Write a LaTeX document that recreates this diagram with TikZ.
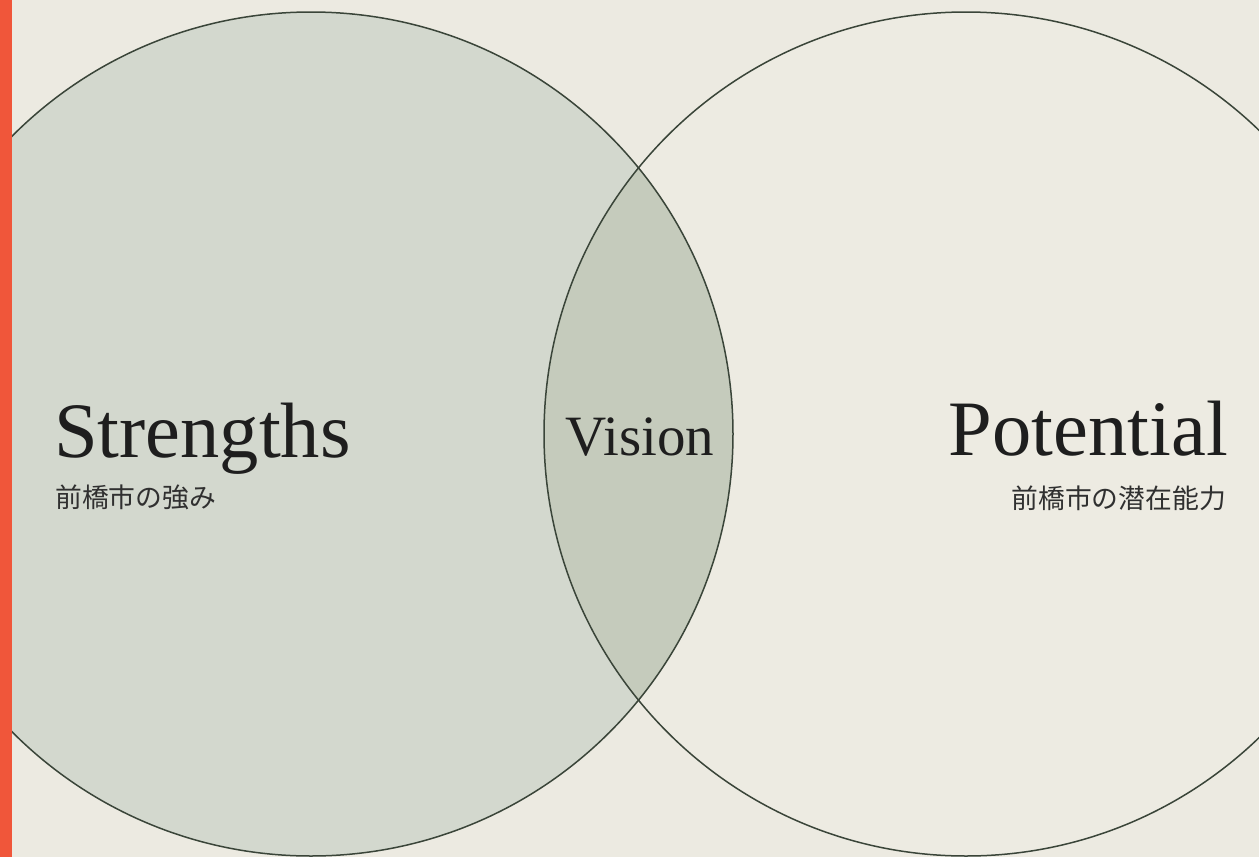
\documentclass[tikz,border=0pt]{standalone}
\usepackage{fontspec}
\setmainfont{Liberation Serif}
\newfontfamily\jpfont{Noto Sans CJK JP}
\definecolor{bgc}{HTML}{ECEAE1}
\definecolor{leftfill}{HTML}{D3D8CE}
\definecolor{midfill}{HTML}{C5CBBC}
\definecolor{rightfill}{HTML}{EDEBE2}
\definecolor{ringc}{HTML}{3A4539}
\definecolor{barc}{HTML}{F0563A}
\definecolor{txtc}{HTML}{1E1E1E}
\begin{document}
\begin{tikzpicture}[x=1pt,y=-1pt,
  ring/.style={circle, draw=ringc, line width=1.5pt, minimum size=844pt, inner sep=0pt},
  bigword/.style={text=txtc, font=\fontsize{78.5}{80}\selectfont, inner sep=0pt},
  midword/.style={text=txtc, font=\fontsize{57}{60}\selectfont, inner sep=0pt},
  jpword/.style={text=txtc!92, font=\jpfont\fontsize{26.8}{28}\selectfont, inner sep=0pt}]
\useasboundingbox (0,0) rectangle (1259,857);
\fill[bgc] (0,0) rectangle (1259,857);
\begin{scope}
\clip (0,0) rectangle (1259,857);
\fill[leftfill] (311,434) circle (422);
\fill[rightfill] (966,434) circle (422);
\begin{scope}
\clip (311,434) circle (422);
\fill[midfill] (966,434) circle (422);
\end{scope}
\node[ring] (L) at (311,434) {};
\node[ring] (R) at (966,434) {};
\end{scope}
\fill[barc] (0,0) rectangle (12,857);
\node[bigword, anchor=base west] (S) at (54,457) {Strengths};
\node[jpword, anchor=base west] (Sj) at (55,507) {前橋市の強み};
\node[midword, anchor=base] (V) at (640,455) {Vision};
\node[bigword, anchor=base east] (P) at (1228,455) {Potential};
\node[jpword, anchor=base east] (Pj) at (1226,508) {前橋市の潜在能力};
\end{tikzpicture}
\end{document}
